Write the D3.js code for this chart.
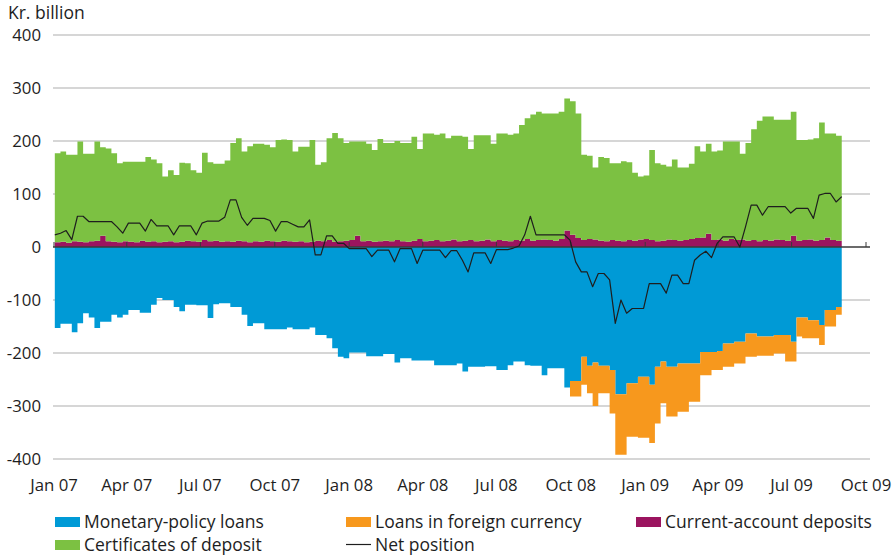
<!DOCTYPE html>
<html>
<head>
<meta charset="utf-8">
<script src="https://cdn.jsdelivr.net/npm/d3@7"></script>
<style>
body { margin: 0; background: #fff; }
svg { display: block; font-family: "Open Sans", sans-serif; }
</style>
</head>
<body>
<svg id="chart" width="896" height="555"></svg>
<script>

// weekly observations, first week starting here
var firstWeek = new Date(2007, 0, 2);

// Kr. billion
var currentAccount = [
    9, 10, 8, 11, 10, 9, 11, 12, 21, 11,
    10, 9, 11, 10, 9, 12, 10, 11, 9, 10,
    11, 9, 10, 12, 11, 10, 13, 11, 12, 10,
    11, 10, 12, 11, 9, 11, 10, 12, 11, 10,
    12, 11, 10, 11, 9, 10, 12, 11, 13, 10,
    11, 12, 13, 21, 11, 12, 10, 11, 12, 11,
    13, 11, 10, 12, 15, 11, 12, 13, 11, 12,
    14, 11, 12, 13, 11, 12, 14, 11, 13, 12,
    11, 13, 12, 15, 12, 13, 14, 13, 12, 15,
    31, 23, 17, 13, 15, 14, 12, 11, 13, 12,
    11, 13, 12, 14, 15, 13, 11, 12, 14, 13,
    12, 13, 15, 17, 18, 25, 13, 14, 12, 15,
    13, 14, 12, 13, 11, 13, 12, 14, 13, 12,
    21, 12, 13, 14, 12, 13, 18, 13, 12, 11
];

var certificates = [
    168, 170, 166, 163, 189, 167, 165, 187, 167, 175,
    167, 149, 150, 151, 152, 149, 160, 154, 149, 123,
    134, 127, 149, 146, 134, 130, 165, 149, 145, 147,
    152, 186, 193, 169, 181, 184, 185, 181, 177, 192,
    191, 191, 170, 178, 180, 192, 143, 149, 192, 205,
    194, 184, 186, 178, 188, 183, 173, 193, 184, 185,
    187, 185, 186, 196, 170, 203, 202, 199, 203, 193,
    196, 199, 196, 172, 200, 199, 197, 184, 201, 202,
    201, 201, 218, 228, 238, 242, 238, 239, 240, 240,
    249, 252, 235, 161, 157, 136, 158, 157, 145, 146,
    151, 147, 128, 119, 120, 170, 147, 143, 138, 152,
    138, 137, 142, 173, 162, 170, 167, 168, 187, 184,
    186, 162, 184, 209, 227, 233, 234, 226, 227, 228,
    234, 190, 189, 189, 193, 222, 196, 201, 198, 194
];

var monetaryLoans = [
    -153, -145, -145, -161, -144, -125, -133, -153, -141, -141,
    -128, -133, -128, -119, -119, -124, -124, -109, -96, -100,
    -100, -113, -121, -109, -109, -110, -110, -134, -108, -106,
    -106, -113, -113, -128, -149, -144, -144, -155, -155, -155,
    -155, -152, -155, -155, -155, -152, -166, -166, -172, -191,
    -207, -210, -199, -199, -199, -206, -206, -206, -202, -202,
    -218, -210, -210, -214, -214, -214, -214, -223, -223, -223,
    -223, -220, -235, -226, -226, -226, -225, -225, -232, -232,
    -223, -216, -216, -223, -224, -224, -242, -229, -229, -229,
    -265, -253, -253, -207, -224, -218, -224, -224, -232, -278,
    -278, -257, -257, -245, -245, -260, -226, -216, -226, -226,
    -220, -220, -220, -220, -198, -198, -198, -196, -182, -182,
    -179, -179, -163, -163, -169, -169, -169, -166, -166, -166,
    -179, -133, -133, -138, -138, -147, -119, -119, -113, -113
];

var foreignLoans = [
    0, 0, 0, 0, 0, 0, 0, 0, 0, 0,
    0, 0, 0, 0, 0, 0, 0, 0, 0, 0,
    0, 0, 0, 0, 0, 0, 0, 0, 0, 0,
    0, 0, 0, 0, 0, 0, 0, 0, 0, 0,
    0, 0, 0, 0, 0, 0, 0, 0, 0, 0,
    0, 0, 0, 0, 0, 0, 0, 0, 0, 0,
    0, 0, 0, 0, 0, 0, 0, 0, 0, 0,
    0, 0, 0, 0, 0, 0, 0, 0, 0, 0,
    0, 0, 0, 0, 0, 0, 0, 0, 0, 0,
    0, -29, -29, -53, -52, -82, -52, -52, -82, -114,
    -114, -101, -101, -115, -115, -110, -107, -79, -94, -94,
    -91, -91, -72, -72, -44, -44, -34, -36, -44, -44,
    -41, -41, -44, -44, -36, -36, -36, -35, -35, -50,
    -37, -36, -39, -34, -34, -38, -31, -31, -15, -15
];

var netPosition = [
    23, 26, 31, 14, 58, 58, 48, 48, 48, 48,
    48, 38, 26, 45, 45, 45, 30, 52, 40, 40,
    40, 23, 40, 40, 40, 23, 45, 49, 49, 49,
    56, 89, 89, 56, 41, 54, 54, 54, 50, 30,
    48, 48, 43, 38, 38, 51, -15, -15, 21, 21,
    7, 7, -3, -3, -3, -3, -18, -6, -6, -6,
    -28, -3, -3, -3, -31, -6, -6, -6, -6, -20,
    -7, -7, -25, -47, -11, -11, -11, -31, -5, -5,
    -5, -2, 2, 23, 58, 23, 23, 23, 23, 23,
    23, 13, -28, -47, -47, -75, -50, -50, -62, -144,
    -100, -125, -116, -116, -116, -69, -69, -69, -87, -53,
    -53, -69, -69, -25, -15, -8, -20, 7, 19, 19,
    19, 0, 38, 79, 79, 60, 76, 76, 76, 76,
    64, 73, 73, 73, 54, 98, 101, 101, 85, 95
];

var yTicks = [-400, -300, -200, -100, 0, 100, 200, 300, 400];
var xTickLabels = ['Jan 07', 'Apr 07', 'Jul 07', 'Oct 07', 'Jan 08', 'Apr 08',
    'Jul 08', 'Oct 08', 'Jan 09', 'Apr 09', 'Jul 09', 'Oct 09'];

var keys = ['mp', 'fx', 'ca', 'cd'];
var colors = { mp: '#009ad6', fx: '#f7981d', ca: '#9b145f', cd: '#7cc142' };

var rows = monetaryLoans.map(function(v, i) {
    return {
        date: d3.timeDay.offset(firstWeek, 7 * i),
        mp: v,
        fx: foreignLoans[i],
        ca: currentAccount[i],
        cd: certificates[i],
        net: netPosition[i]
    };
});

var svg = d3.select('#chart');

var x = d3.scaleTime()
    .domain([new Date(2007, 0, 1), new Date(2009, 9, 1)])
    .range([54, 866]);
var y = d3.scaleLinear().domain([-400, 400]).range([459, 35]);

var gridLeft = 53, gridRight = 870;
var ink = '#1e1e1e';

// gridlines
svg.append('g').selectAll('line')
    .data(yTicks.filter(function(d) { return d !== 0; }))
    .enter().append('line')
        .attr('x1', gridLeft).attr('x2', gridRight)
        .attr('y1', y).attr('y2', y)
        .attr('stroke', '#c8c8c8')
        .attr('stroke-width', 1.6);

// stacked areas
var series = d3.stack().keys(keys).offset(d3.stackOffsetDiverging)(rows);

var area = d3.area()
    .curve(d3.curveStepAfter)
    .x(function(d) { return x(d.data.date); })
    .y0(function(d) { return y(d[0]); })
    .y1(function(d) { return y(d[1]); });

svg.append('g').selectAll('path')
    .data(series)
    .enter().append('path')
        .attr('fill', function(d) { return colors[d.key]; })
        .attr('d', area);

// zero axis with small ticks
var axis = svg.append('g');
axis.append('line')
    .attr('x1', gridLeft).attr('x2', gridRight)
    .attr('y1', y(0)).attr('y2', y(0))
    .attr('stroke', '#3a3a3a')
    .attr('stroke-width', 1.3);

var tickDates = xTickLabels.map(function(s, i) { return d3.timeMonth.offset(new Date(2007, 0, 1), 3 * i); });

axis.selectAll('line.tick')
    .data(tickDates)
    .enter().append('line')
        .attr('class', 'tick')
        .attr('x1', x).attr('x2', x)
        .attr('y1', y(0)).attr('y2', y(0) - 5)
        .attr('stroke', '#3a3a3a')
        .attr('stroke-width', 1);

// net position line
var line = d3.line()
    .x(function(d) { return x(d.date); })
    .y(function(d) { return y(d.net); });

svg.append('path')
    .datum(rows)
    .attr('fill', 'none')
    .attr('stroke', ink)
    .attr('stroke-width', 1.2)
    .attr('stroke-linejoin', 'round')
    .attr('d', line);

// y labels
svg.append('g').selectAll('text')
    .data(yTicks)
    .enter().append('text')
        .attr('x', 41)
        .attr('y', y)
        .attr('dy', '0.36em')
        .attr('text-anchor', 'end')
        .attr('font-size', 16.8)
        .attr('fill', ink)
        .text(function(d) { return d; });

svg.append('text')
    .attr('x', 8).attr('y', 19)
    .attr('font-size', 17.5)
    .attr('fill', ink)
    .text('Kr. billion');

// x labels
svg.append('g').selectAll('text')
    .data(xTickLabels)
    .enter().append('text')
        .attr('x', function(d, i) { return x(tickDates[i]); })
        .attr('y', 491)
        .attr('text-anchor', 'middle')
        .attr('font-size', 16.8)
        .attr('fill', ink)
        .text(function(d) { return d; });

// legend
var legendItems = [
    { label: 'Monetary-policy loans', color: colors.mp, x: 55, y: 517 },
    { label: 'Loans in foreign currency', color: colors.fx, x: 346, y: 517 },
    { label: 'Current-account deposits', color: colors.ca, x: 636, y: 517 },
    { label: 'Certificates of deposit', color: colors.cd, x: 55, y: 540 },
    { label: 'Net position', color: null, x: 346, y: 540 }
];

var legend = svg.append('g').selectAll('g')
    .data(legendItems)
    .enter().append('g')
        .attr('transform', function(d) { return 'translate(' + d.x + ',' + d.y + ')'; });

legend.filter(function(d) { return d.color; })
    .append('rect')
        .attr('width', 25).attr('height', 10)
        .attr('fill', function(d) { return d.color; });

legend.filter(function(d) { return !d.color; })
    .append('line')
        .attr('x1', 0).attr('x2', 25)
        .attr('y1', 4.5).attr('y2', 4.5)
        .attr('stroke', ink)
        .attr('stroke-width', 1.2);

legend.append('text')
    .attr('x', 29).attr('y', 11)
    .attr('font-size', 17.5)
    .attr('fill', ink)
    .text(get('label'));

function get(prop) { return function(o) { return o[prop]; }; }
</script>
</body>
</html>
